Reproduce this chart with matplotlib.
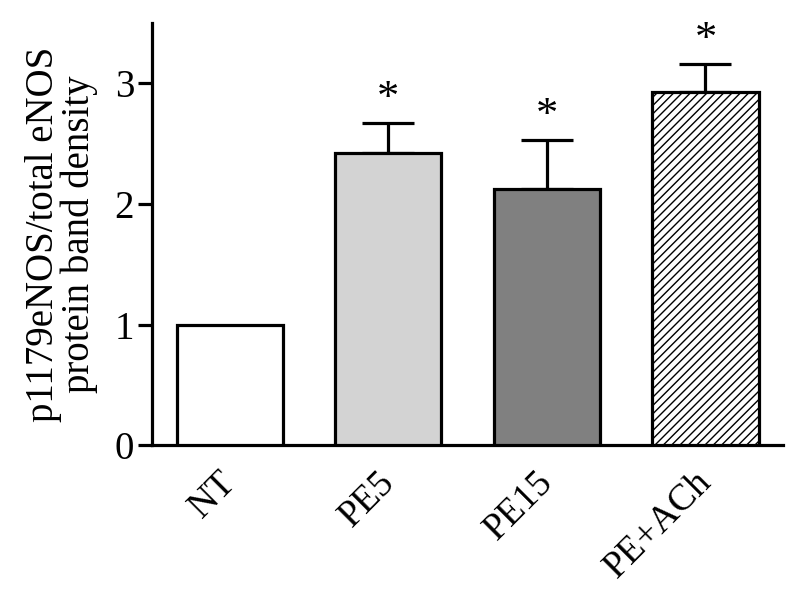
import numpy as np
import matplotlib
matplotlib.use("Agg")
import matplotlib.pyplot as plt
from matplotlib.transforms import ScaledTranslation

groups = ["NT", "PE5", "PE15", "PE+ACh"]
density = [1.0, 2.42, 2.12, 2.93]
sem = [0.0, 0.25, 0.41, 0.23]
signif = [False, True, True, True]

fills = ["white", "#d3d3d3", "#808080", "white"]
hatches = ["", "", "", "////"]

plt.rcParams["font.family"] = ["Liberation Serif", "DejaVu Serif"]
plt.rcParams["hatch.linewidth"] = 1.0

fig = plt.figure(figsize=(8, 6), dpi=100)
ax = fig.add_axes([0.19, 0.258, 0.789, 0.704])

x = np.arange(len(groups))
lw = 2.3
bars = ax.bar(x, density, width=0.67, color=fills, edgecolor="black",
              linewidth=lw, zorder=3)
for b, h in zip(bars, hatches):
    b.set_hatch(h)

# upper error bars only, NT has none
idx = [i for i in range(len(groups)) if sem[i] > 0]
ax.errorbar(x[idx], np.array(density)[idx],
            yerr=[np.zeros(len(idx)), np.array(sem)[idx]],
            fmt="none", ecolor="black", elinewidth=lw, capsize=19,
            capthick=lw, zorder=2)

for i in range(len(groups)):
    if signif[i]:
        ax.annotate("*", (x[i], density[i] + sem[i]), xytext=(0, 3),
                    textcoords="offset points", ha="center", va="bottom",
                    fontsize=32)

ax.set_xlim(-0.49, 3.49)
ax.set_ylim(0, 3.5)
ax.set_yticks([0, 1, 2, 3])
ax.set_xticks(x)
ax.set_xticklabels(groups, rotation=45, ha="right", rotation_mode="anchor",
                   fontsize=27)
ax.tick_params(axis="y", labelsize=28, length=10, width=lw, pad=3)
ax.tick_params(axis="x", length=0, pad=14)

# nudge rotated labels a bit left
shift = ScaledTranslation(-8 / 72, 0, fig.dpi_scale_trans)
for lab in ax.get_xticklabels():
    lab.set_transform(lab.get_transform() + shift)

for s in ["top", "right"]:
    ax.spines[s].set_visible(False)
for s in ["left", "bottom"]:
    ax.spines[s].set_linewidth(lw)

ax.set_ylabel("p1179eNOS/total eNOS\nprotein band density", fontsize=28,
              linespacing=0.95, labelpad=12)

fig.savefig("out.png", dpi=100)
